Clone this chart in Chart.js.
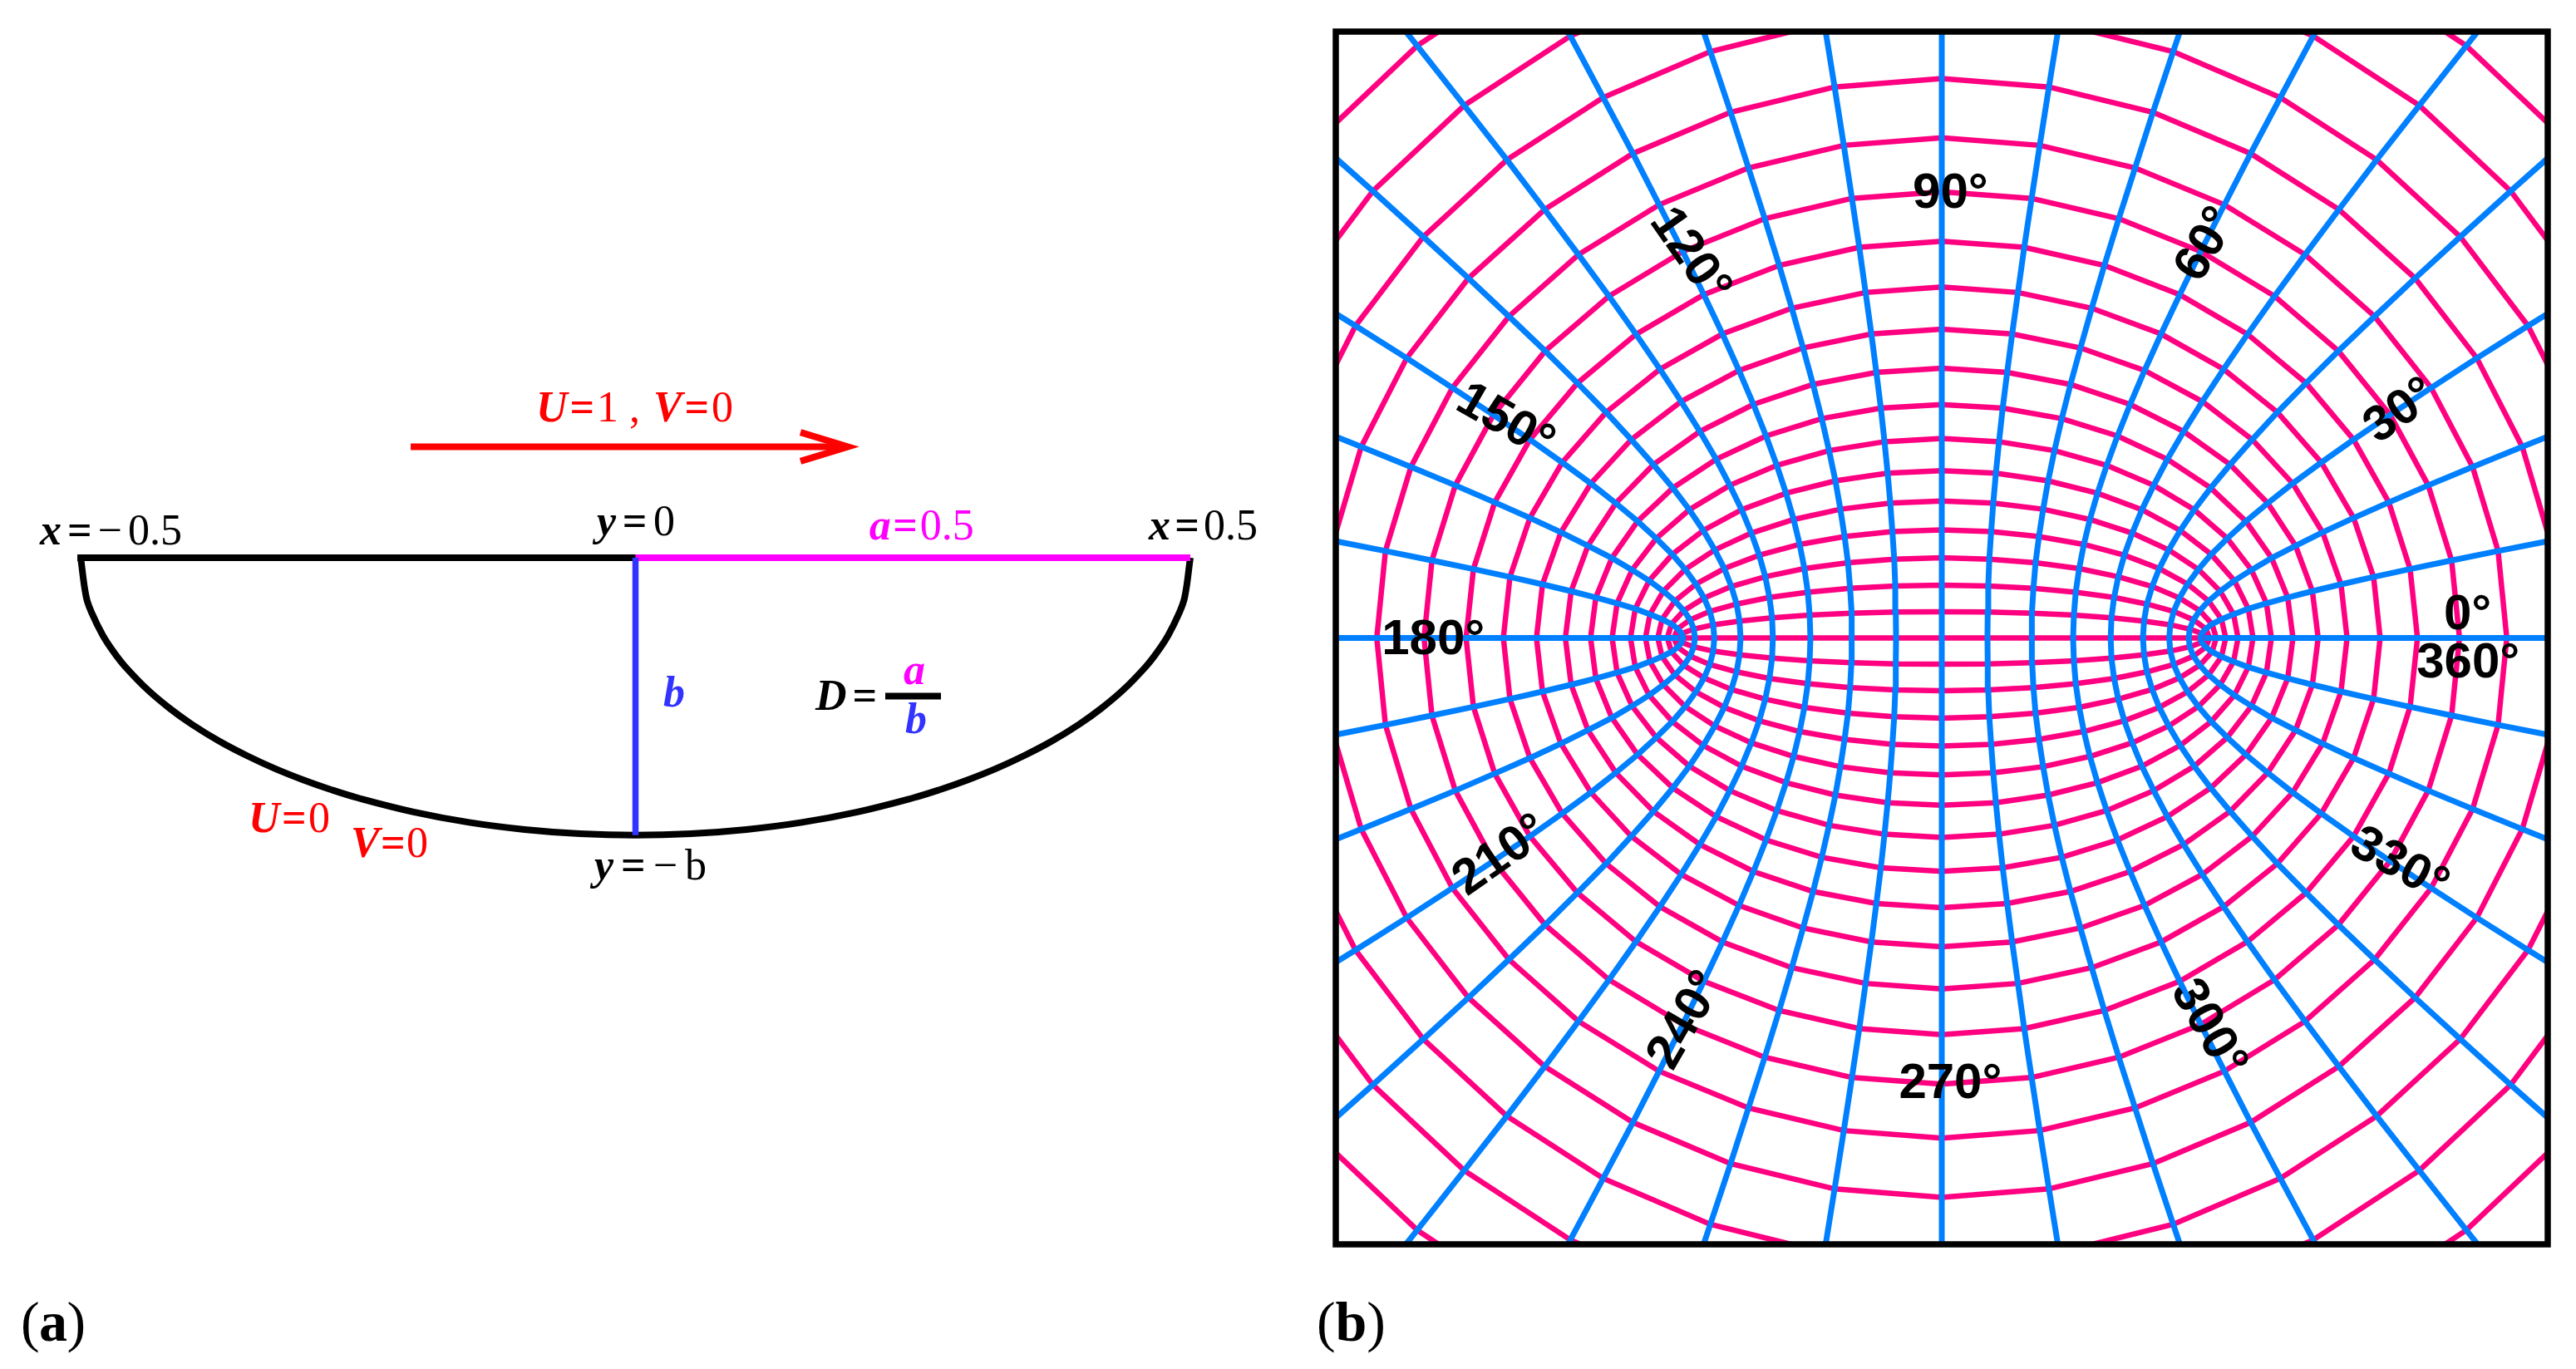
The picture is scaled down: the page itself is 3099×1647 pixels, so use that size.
<!DOCTYPE html>
<html>
<head>
<meta charset="utf-8">
<title>Bowl and grid</title>
<script src="https://cdn.jsdelivr.net/npm/chart.js@4"></script>
<style>
html,body{margin:0;padding:0;background:#fff;overflow:hidden}
canvas{position:absolute}
</style>
</head>
<body>
<canvas id="chartA" width="1680" height="1647" style="left:0;top:0"></canvas>
<canvas id="chartB" width="1494" height="1495" style="left:1590px;top:20px"></canvas>
<script>
// panel (a): half section, x from -0.5 to 0.5
const bowlX = [-0.5,-0.495,-0.49,-0.48,-0.47,-0.46,-0.44,-0.42,-0.4,-0.375,-0.35,-0.325,-0.3,-0.275,-0.25,-0.2,-0.15,-0.1,-0.05,0,0.05,0.1,0.15,0.2,0.25,0.275,0.3,0.325,0.35,0.375,0.4,0.42,0.44,0.46,0.47,0.48,0.49,0.495,0.5];
const bowlY = [0,-0.0353,-0.0497,-0.07,-0.0853,-0.098,-0.1187,-0.1356,-0.15,-0.1654,-0.1785,-0.19,-0.2,-0.2088,-0.2165,-0.2291,-0.2385,-0.2449,-0.2487,-0.25,-0.2487,-0.2449,-0.2385,-0.2291,-0.2165,-0.2088,-0.2,-0.19,-0.1785,-0.1654,-0.15,-0.1356,-0.1187,-0.098,-0.0853,-0.07,-0.0497,-0.0353,0];
const lidLeftX = [0,-0.5];
const lidRightX = [0,0.5];
const depthY = [0,-0.25];
const arrowX = [-0.2026,0.188];
const arrowHeadX = [0.1487,0.1914,0.1487];
const arrowHeadY = [0.113,0.1,0.087];
const arrowY = 0.1;
const fractionX = [0.2251,0.2753];
const fractionY = -0.1247;

// panel (b): grid nodes of the first quadrant, one row per pink curve, one column per blue curve (0..90 deg)
const nodeX = [
[1,0.985,0.94,0.866,0.766,0.643,0.5,0.342,0.174,0],
[1.005,0.99,0.944,0.87,0.77,0.646,0.503,0.344,0.175,0],
[1.02,1.005,0.958,0.883,0.781,0.656,0.51,0.349,0.177,0],
[1.045,1.029,0.982,0.905,0.801,0.672,0.523,0.357,0.181,0],
[1.081,1.065,1.016,0.936,0.828,0.695,0.541,0.37,0.188,0],
[1.128,1.111,1.06,0.977,0.864,0.725,0.564,0.386,0.196,0],
[1.185,1.167,1.114,1.026,0.908,0.762,0.593,0.405,0.206,0],
[1.255,1.236,1.179,1.087,0.961,0.807,0.628,0.429,0.218,0],
[1.337,1.317,1.256,1.158,1.024,0.859,0.669,0.457,0.232,0],
[1.433,1.411,1.347,1.241,1.098,0.921,0.717,0.49,0.249,0],
[1.543,1.52,1.45,1.336,1.182,0.992,0.772,0.528,0.268,0],
[1.669,1.644,1.568,1.445,1.278,1.073,0.835,0.571,0.29,0],
[1.811,1.783,1.702,1.568,1.387,1.164,0.906,0.619,0.314,0],
[1.971,1.941,1.852,1.707,1.51,1.267,0.986,0.674,0.342,0],
[2.151,2.118,2.021,1.863,1.648,1.383,1.076,0.736,0.373,0],
[2.352,2.316,2.21,2.037,1.802,1.512,1.176,0.804,0.408,0],
[2.577,2.538,2.422,2.232,1.974,1.656,1.289,0.881,0.447,0],
[2.828,2.785,2.657,2.449,2.166,1.818,1.414,0.967,0.491,0],
[3.107,3.06,2.92,2.691,2.38,1.997,1.554,1.063,0.539,0],
[3.418,3.366,3.212,2.96,2.618,2.197,1.709,1.169,0.594,0],
[3.762,3.705,3.535,3.258,2.882,2.418,1.881,1.287,0.653,0]
];
const nodeY = [
[0,0,0,0,0,0,0,0,0,0],
[0,0.017,0.034,0.05,0.064,0.077,0.087,0.094,0.099,0.1],
[0,0.035,0.069,0.101,0.129,0.154,0.174,0.189,0.198,0.201],
[0,0.053,0.104,0.152,0.196,0.233,0.264,0.286,0.3,0.305],
[0,0.071,0.141,0.205,0.264,0.315,0.356,0.386,0.405,0.411],
[0,0.09,0.178,0.261,0.335,0.399,0.451,0.49,0.513,0.521],
[0,0.111,0.218,0.318,0.409,0.488,0.551,0.598,0.627,0.637],
[0,0.132,0.259,0.379,0.488,0.581,0.657,0.713,0.747,0.759],
[0,0.154,0.304,0.444,0.571,0.68,0.769,0.835,0.875,0.888],
[0,0.178,0.351,0.513,0.66,0.786,0.889,0.965,1.011,1.027],
[0,0.204,0.402,0.588,0.755,0.9,1.018,1.104,1.157,1.175],
[0,0.232,0.457,0.668,0.859,1.023,1.157,1.255,1.315,1.336],
[0,0.262,0.516,0.755,0.97,1.156,1.307,1.418,1.487,1.51],
[0,0.295,0.581,0.849,1.092,1.301,1.471,1.596,1.673,1.698],
[0,0.331,0.651,0.952,1.224,1.459,1.649,1.789,1.875,1.904],
[0,0.37,0.728,1.065,1.369,1.631,1.844,2.001,2.097,2.129],
[0,0.413,0.812,1.188,1.527,1.82,2.057,2.232,2.339,2.376],
[0,0.459,0.905,1.323,1.701,2.027,2.291,2.486,2.605,2.646],
[0,0.511,1.006,1.471,1.891,2.254,2.548,2.765,2.898,2.942],
[0,0.568,1.118,1.634,2.101,2.504,2.83,3.071,3.219,3.268],
[0,0.63,1.24,1.813,2.331,2.778,3.141,3.408,3.572,3.627]
];
const pinkCurves = 19;

const degreeText = ["90°","120°","60°","30°","0°","360°","180°","150°","210°","240°","270°","300°","330°"];
const degreeX = [0.033,-0.96,1.01,1.748,2.002,2.004,-1.936,-1.663,-1.677,-0.972,0.033,1.014,1.741];
const degreeY = [1.689,1.455,1.497,0.862,0.085,-0.099,-0.009,0.822,-0.83,-1.456,-1.7,-1.486,-0.865];
const degreeTurn = [0,55,-60,-35,0,0,0,30,-35,-60,0,60,29];

// notes of panel (a): runs are [text, style, colour], style i = bold italic, b = bold, r = regular
const RED="#ff0000", MAGENTA="#ff00ff", INK="#3333ff", BLACK="#000000";
const noteRuns = [
 [["x","i",BLACK],["=","b",BLACK],["−","r",BLACK],["0.5","r",BLACK]],
 [["y","i",BLACK],["=","b",BLACK],["0","r",BLACK]],
 [["a","i",MAGENTA],["=","b",MAGENTA],["0.5","r",MAGENTA]],
 [["x","i",BLACK],["=","b",BLACK],["0.5","r",BLACK]],
 [["U","i",RED],["=","b",RED],["1 , ","r",RED],["V","i",RED],["=","b",RED],["0","r",RED]],
 [["b","i",INK]],
 [["D","i",BLACK],["=","b",BLACK]],
 [["a","i",MAGENTA]],
 [["b","i",INK]],
 [["y","i",BLACK],["=","b",BLACK],["−","r",BLACK],["b","r",BLACK]],
 [["U","i",RED],["=","b",RED],["0","r",RED]],
 [["V","i",RED],["=","b",RED],["0","r",RED]]
];
const noteX = [-0.5368,-0.0348,0.2106,0.4626,-0.0895,0.0251,0.1622,0.2416,0.2431,-0.0371,-0.3487,-0.2566];
const noteY = [0.012,0.0202,0.0168,0.0168,0.1228,-0.1341,-0.1371,-0.1139,-0.1581,-0.2899,-0.247,-0.2694];
const noteW = [171,94,126,131,237,23,74,23,23,135,98,93];

const panelRuns = [[["(","r",BLACK],["a","b",BLACK],[")","r",BLACK]],[["(","r",BLACK],["b","b",BLACK],[")","r",BLACK]]];
const panelX = [-0.5539,0.6139];
const panelY = [-0.7056,-0.7056];
const panelW = [78,83];

function pairs(xs,ys){
  let out=[];
  for(let i=0;i<xs.length;i++) out.push({x:xs[i],y:ys[i]});
  return out;
}

function line(points,color,width,order){
  return {data:points,showLine:true,borderColor:color,borderWidth:width,pointRadius:0,fill:false,tension:0,
    borderCapStyle:"butt",borderJoinStyle:"miter",order:order};
}

function pinkLine(i){
  let p=[];
  let x=nodeX[i], y=nodeY[i];
  for(let j=0;j<10;j++) p.push({x:x[j],y:y[j]});
  for(let j=8;j>=0;j--) p.push({x:-x[j],y:y[j]});
  for(let j=1;j<10;j++) p.push({x:-x[j],y:-y[j]});
  for(let j=8;j>=0;j--) p.push({x:x[j],y:-y[j]});
  return p;
}

function blueLine(j,s){
  let p=[];
  for(let i=nodeX.length-1;i>0;i--) p.push({x:s*nodeX[i][j],y:-nodeY[i][j]});
  for(let i=0;i<nodeX.length;i++) p.push({x:s*nodeX[i][j],y:nodeY[i][j]});
  return p;
}

function drawRuns(chart,runs,x,y,w,size){
  let ctx=chart.ctx;
  let fonts={i:"italic bold ",b:"bold ",r:""};
  let widths=[], natural=0;
  for(let r of runs){
    ctx.font=fonts[r[1]]+size+"px 'Liberation Serif'";
    let m=ctx.measureText(r[0]).width;
    widths.push(m);
    natural+=m;
  }
  let gap=runs.length>1?(w-natural)/(runs.length-1):0;
  let px=chart.scales.x.getPixelForValue(x), py=chart.scales.y.getPixelForValue(y);
  ctx.textAlign="left";
  ctx.textBaseline="alphabetic";
  for(let i=0;i<runs.length;i++){
    ctx.font=fonts[runs[i][1]]+size+"px 'Liberation Serif'";
    ctx.fillStyle=runs[i][2];
    ctx.fillText(runs[i][0],px,py);
    px+=widths[i]+gap;
  }
}

const notesPlugin = {
  id:"notes",
  afterDatasetsDraw(chart){
    chart.ctx.save();
    for(let i=0;i<noteRuns.length;i++) drawRuns(chart,noteRuns[i],noteX[i],noteY[i],noteW[i],52);
    for(let i=0;i<panelRuns.length;i++) drawRuns(chart,panelRuns[i],panelX[i],panelY[i],panelW[i],68);
    chart.ctx.restore();
  }
};

const gridPlugin = {
  id:"gridNotes",
  afterDatasetsDraw(chart){
    let ctx=chart.ctx, a=chart.chartArea;
    ctx.save();
    ctx.font="bold 60px 'Liberation Sans'";
    ctx.fillStyle="#000";
    ctx.textAlign="center";
    ctx.textBaseline="middle";
    for(let i=0;i<degreeText.length;i++){
      ctx.save();
      ctx.translate(chart.scales.x.getPixelForValue(degreeX[i]),chart.scales.y.getPixelForValue(degreeY[i]));
      ctx.rotate(degreeTurn[i]*Math.PI/180);
      ctx.fillText(degreeText[i],0,0);
      ctx.restore();
    }
    ctx.strokeStyle="#000";
    ctx.lineWidth=7.5;
    ctx.strokeRect(a.left,a.top,a.right-a.left,a.bottom-a.top);
    ctx.restore();
  }
};

function hiddenScale(min,max){
  return {type:"linear",display:false,min:min,max:max};
}

const baseOptions = {responsive:false,animation:false,devicePixelRatio:1,
  plugins:{legend:{display:false},tooltip:{enabled:false}},events:[]};

// panel (a)
let lidLeft=line(pairs(lidLeftX,[0,0]),BLACK,8,3);
lidLeft.borderCapStyle="square";
let bowl=line(pairs(bowlX,bowlY),BLACK,8,3);
bowl.tension=0.4;
new Chart(document.getElementById("chartA"),{
  type:"scatter",
  data:{datasets:[
    line(pairs([0,0],depthY),INK,7.5,1),
    line(pairs(lidRightX,[0,0]),MAGENTA,8,2),
    lidLeft,
    bowl,
    line(pairs(arrowX,[arrowY,arrowY]),RED,8,4),
    line(pairs(arrowHeadX,arrowHeadY),RED,8,4),
    line(pairs(fractionX,[fractionY,fractionY]),BLACK,8,4)
  ]},
  options:Object.assign({},baseOptions,{
    layout:{padding:0},
    scales:{x:hiddenScale(-0.5727,0.6858),y:hiddenScale(-0.7311,0.5026)}
  }),
  plugins:[notesPlugin]
});

// panel (b)
let gridSets=[];
for(let i=0;i<pinkCurves;i++) gridSets.push(line(pinkLine(i),"#ff0080",6.5,2));
for(let j=0;j<10;j++){
  gridSets.push(line(blueLine(j,1),"#0080ff",7,1));
  if(j<9) gridSets.push(line(blueLine(j,-1),"#0080ff",7,1));
}
new Chart(document.getElementById("chartB"),{
  type:"scatter",
  data:{datasets:gridSets},
  options:Object.assign({},baseOptions,{
    layout:{padding:{left:17,right:19,top:18,bottom:18}},
    scales:{x:hiddenScale(-2.307,2.307),y:hiddenScale(-2.308,2.308)}
  }),
  plugins:[gridPlugin]
});
</script>
</body>
</html>
